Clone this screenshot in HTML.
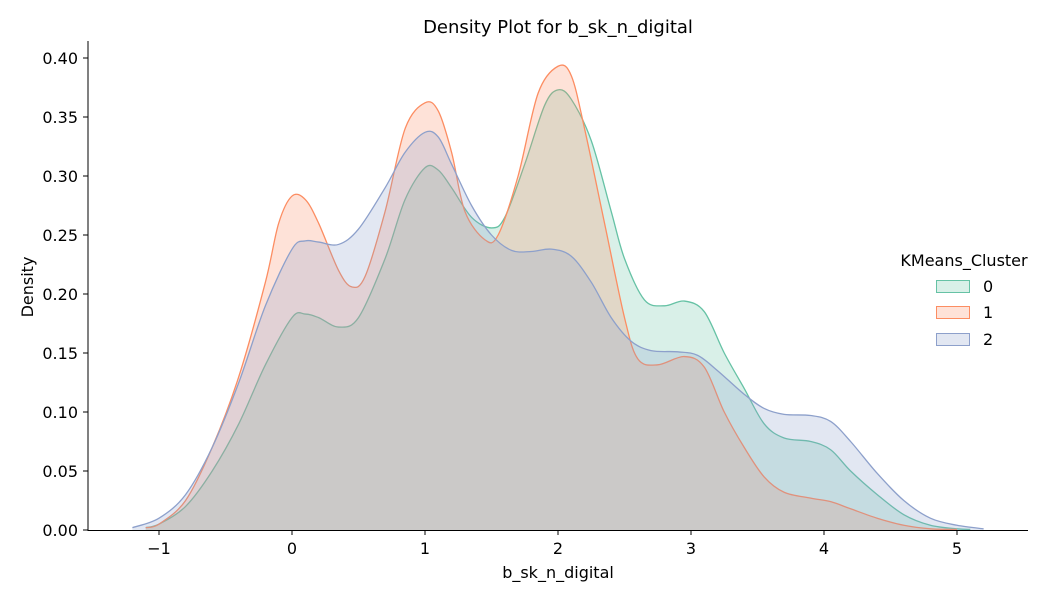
<!DOCTYPE html>
<html><head><meta charset="utf-8"><style>
body{margin:0;background:#fff;}
svg text{font-family:"DejaVu Sans","Liberation Sans",sans-serif;fill:#000;}
</style></head><body>
<svg id="chart" width="1045" height="600" xmlns="http://www.w3.org/2000/svg">
<text x="558" y="33" font-size="18" text-anchor="middle">Density Plot for b_sk_n_digital</text>
<g id="marks"></g>
<g id="axes"></g>
<text x="558" y="578" font-size="16" text-anchor="middle">b_sk_n_digital</text>
<text transform="translate(33,287) rotate(-90)" font-size="16" text-anchor="middle">Density</text>
<g>
<text x="964" y="266" font-size="16" text-anchor="middle">KMeans_Cluster</text>
<g><rect x="936.5" y="280.5" width="33" height="12" fill="#66c2a5" fill-opacity="0.25" stroke="#66c2a5"/><text x="983" y="292" font-size="16">0</text></g>
<g><rect x="936.5" y="306.5" width="33" height="12" fill="#fc8d62" fill-opacity="0.25" stroke="#fc8d62"/><text x="983" y="318" font-size="16">1</text></g>
<g><rect x="936.5" y="333.5" width="33" height="12" fill="#8da0cb" fill-opacity="0.25" stroke="#8da0cb"/><text x="983" y="345" font-size="16">2</text></g>
</g>
</svg>
<script>
const xTicks=[-1,0,1,2,3,4,5];
const yTicks=[0,0.05,0.10,0.15,0.20,0.25,0.30,0.35,0.40];
const xs0=[-1.1,-1,-0.8,-0.6,-0.4,-0.2,0,0.1,0.2,0.35,0.5,0.7,0.85,1,1.1,1.2,1.35,1.5,1.6,1.75,1.9,2,2.1,2.25,2.4,2.5,2.65,2.8,2.95,3.1,3.25,3.4,3.55,3.7,3.9,4.05,4.2,4.4,4.6,4.8,5.0,5.1];
const ys0=[0.002,0.005,0.02,0.05,0.09,0.14,0.18,0.183,0.18,0.172,0.18,0.23,0.28,0.307,0.305,0.29,0.265,0.256,0.265,0.31,0.36,0.373,0.365,0.33,0.27,0.23,0.195,0.19,0.194,0.185,0.15,0.12,0.09,0.078,0.075,0.068,0.05,0.03,0.013,0.004,0.001,0.0005];
const xs1=[-1.1,-1,-0.8,-0.6,-0.4,-0.2,-0.1,0,0.1,0.2,0.35,0.45,0.55,0.7,0.85,1,1.1,1.2,1.3,1.45,1.55,1.7,1.85,2,2.1,2.2,2.35,2.5,2.6,2.75,2.95,3.1,3.25,3.4,3.55,3.7,3.9,4.05,4.2,4.4,4.6,4.8,5.0];
const ys1=[0.002,0.005,0.025,0.07,0.13,0.21,0.26,0.283,0.28,0.26,0.22,0.206,0.215,0.27,0.34,0.362,0.355,0.32,0.27,0.246,0.25,0.3,0.37,0.393,0.385,0.34,0.26,0.18,0.145,0.14,0.147,0.138,0.1,0.07,0.045,0.032,0.027,0.024,0.018,0.01,0.004,0.001,0.0005];
const xs2=[-1.2,-1,-0.8,-0.6,-0.4,-0.2,0,0.1,0.2,0.35,0.5,0.7,0.85,1,1.1,1.2,1.35,1.5,1.65,1.8,1.95,2.1,2.25,2.4,2.55,2.7,2.9,3.05,3.2,3.4,3.55,3.7,3.9,4.05,4.2,4.4,4.6,4.8,5.0,5.2];
const ys2=[0.002,0.01,0.03,0.07,0.125,0.19,0.238,0.245,0.244,0.242,0.255,0.29,0.32,0.337,0.333,0.31,0.275,0.25,0.237,0.236,0.238,0.232,0.21,0.18,0.16,0.152,0.151,0.148,0.135,0.115,0.103,0.098,0.097,0.092,0.075,0.048,0.025,0.01,0.004,0.001];
const NS="http://www.w3.org/2000/svg";
const X=v=>292+133*v, Y=v=>530-1180*v;
function smooth(pts){let d=`M${pts[0][0]},${pts[0][1]}`;for(let i=0;i<pts.length-1;i++){const p0=pts[Math.max(0,i-1)],p1=pts[i],p2=pts[i+1],p3=pts[Math.min(pts.length-1,i+2)];const c1=[p1[0]+(p2[0]-p0[0])/6,p1[1]+(p2[1]-p0[1])/6],c2=[p2[0]-(p3[0]-p1[0])/6,p2[1]-(p3[1]-p1[1])/6];d+=`C${c1[0]},${c1[1]} ${c2[0]},${c2[1]} ${p2[0]},${p2[1]}`;}return d;}
const marks=document.getElementById('marks');
[[xs0,ys0,'#66c2a5'],[xs1,ys1,'#fc8d62'],[xs2,ys2,'#8da0cb']].forEach((s,k)=>{
const pts=s[0].map((x,i)=>[X(x),Y(s[1][i])]);
const line=smooth(pts);
const f=document.createElementNS(NS,'path');
f.setAttribute('d',line+`L${pts[pts.length-1][0]},530L${pts[0][0]},530Z`);
f.setAttribute('fill',s[2]);f.setAttribute('fill-opacity','0.25');


marks.appendChild(f);
const l=document.createElementNS(NS,'path');
l.setAttribute('d',line);l.setAttribute('fill','none');l.setAttribute('stroke',s[2]);l.setAttribute('stroke-width','1.3');


marks.appendChild(l);
});
const axes=document.getElementById('axes');
let h=`<line x1="88" y1="41" x2="88" y2="530.5" stroke="#000" stroke-width="1"/><line x1="87.5" y1="530.5" x2="1028" y2="530.5" stroke="#000" stroke-width="1"/>`;
xTicks.forEach(t=>{const x=X(t);h+=`<line x1="${x}" y1="530" x2="${x}" y2="535" stroke="#000"/><text x="${x}" y="554" font-size="16" text-anchor="middle">${t<0?'\u2212'+(-t):t}</text>`;});
yTicks.forEach(t=>{const y=Y(t);h+=`<line x1="83" y1="${y}" x2="88" y2="${y}" stroke="#000"/><text x="78" y="${y+6}" font-size="16" text-anchor="end">${t.toFixed(2)}</text>`;});
axes.innerHTML=h;


</script>
</body></html>
